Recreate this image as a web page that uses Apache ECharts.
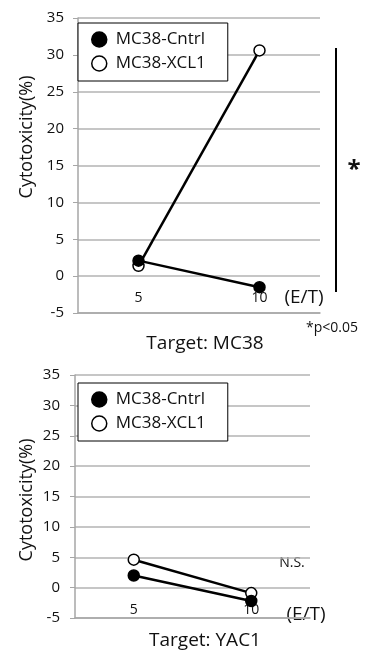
<!DOCTYPE html>
<html><head><meta charset="utf-8">
<script src="https://cdn.jsdelivr.net/npm/echarts@6/dist/echarts.min.js"></script>
<style>html,body{margin:0;padding:0;background:#fff}#c{width:366px;height:651px}</style>
</head><body><div id="c"></div>
<script>
const categories = ['5', '10'];
const seriesNames = ['MC38-Cntrl', 'MC38-XCL1'];
const mc38Cntrl = [2.1, -1.5];
const mc38Xcl1 = [1.4, 30.6];
const yac1Cntrl = [2.0, -2.2];
const yac1Xcl1 = [4.6, -0.9];
const yMin = -5, yMax = 35, yStep = 5;
const panelTitles = ['Target: MC38', 'Target: YAC1'];
const yTitle = 'Cytotoxicity(%)';
const xUnit = '(E/T)';
const sigMark = '*';
const pNote = '*p<0.05';
const nsNote = 'N.S.';

const FONT = '"Open Sans", sans-serif';
const GRAY = '#a6a6a6';
const TXT = '#111';

const grids = [
  {left: 78, right: 46, top: 18, height: 295},
  {left: 75, right: 56, top: 375, height: 243}
];

function xAxis(i, margin) {
  return {
    type: 'category', gridIndex: i, data: categories, boundaryGap: true,
    axisLine: {onZero: false, lineStyle: {color: GRAY, width: 1.5}},
    axisTick: {show: false},
    axisLabel: {color: TXT, fontSize: 14, fontFamily: FONT, inside: true, margin: margin},
    splitLine: {show: false}
  };
}
function yAxis(i, margin) {
  return {
    type: 'value', gridIndex: i, min: yMin, max: yMax, interval: yStep,
    axisLine: {show: true, lineStyle: {color: GRAY, width: 1.5}},
    axisTick: {show: true, length: 5, lineStyle: {color: GRAY}},
    axisLabel: {color: TXT, fontSize: 15, fontFamily: FONT, margin: margin},
    splitLine: {show: true, lineStyle: {color: '#b3b3b3', width: 1.5}}
  };
}
function line(name, data, i, filled) {
  return {
    type: 'line', name: name, xAxisIndex: i, yAxisIndex: i, data: data,
    symbol: 'circle', symbolSize: 11, showSymbol: true,
    lineStyle: {color: '#000', width: 2.5},
    itemStyle: {color: filled ? '#000' : '#fff', borderColor: '#000', borderWidth: 1.5},
    z: filled ? 3 : 2, animation: false
  };
}
function legend(top, left) {
  return {
    orient: 'vertical', left: left, top: top,
    data: [
      {name: seriesNames[0], icon: 'circle', itemStyle: {color: '#000', borderColor: '#000', borderWidth: 1.5}},
      {name: seriesNames[1], icon: 'circle', itemStyle: {color: '#fff', borderColor: '#000', borderWidth: 1.5}}
    ],
    itemWidth: 15, itemHeight: 15, itemGap: 7,
    padding: [8, 22, 9, 13],
    borderColor: '#000', borderWidth: 1, backgroundColor: '#fff',
    textStyle: {color: TXT, fontSize: 17, fontFamily: FONT, padding: [0, 0, 0, 4]},
    selectedMode: false
  };
}

const chart = echarts.init(document.getElementById('c'), null, {renderer: 'canvas'});
chart.setOption({
  animation: false,
  backgroundColor: '#fff',
  grid: grids,
  xAxis: [xAxis(0, 8), xAxis(1, 1)],
  yAxis: [yAxis(0, 14), yAxis(1, 15)],
  legend: [legend(23, 78), legend(383, 78)],
  series: [
    line(seriesNames[1], mc38Xcl1, 0, false),
    line(seriesNames[0], mc38Cntrl, 0, true),
    line(seriesNames[1], yac1Xcl1, 1, false),
    line(seriesNames[0], yac1Cntrl, 1, true)
  ],
  graphic: [
    {type: 'text', x: 27, y: 137, rotation: Math.PI / 2,
     style: {text: yTitle, font: '18px ' + FONT, fill: TXT, align: 'center', verticalAlign: 'middle'}},
    {type: 'text', x: 27, y: 500, rotation: Math.PI / 2,
     style: {text: yTitle, font: '18px ' + FONT, fill: TXT, align: 'center', verticalAlign: 'middle'}},
    {type: 'text', x: 205, y: 344,
     style: {text: panelTitles[0], font: '19px ' + FONT, fill: TXT, align: 'center', verticalAlign: 'middle'}},
    {type: 'text', x: 205, y: 641,
     style: {text: panelTitles[1], font: '19px ' + FONT, fill: TXT, align: 'center', verticalAlign: 'middle'}},
    {type: 'text', x: 304, y: 298,
     style: {text: xUnit, font: '19px ' + FONT, fill: TXT, align: 'center', verticalAlign: 'middle'}},
    {type: 'text', x: 306, y: 615,
     style: {text: xUnit, font: '19px ' + FONT, fill: TXT, align: 'center', verticalAlign: 'middle'}},
    {type: 'line', shape: {x1: 336, y1: 48, x2: 336, y2: 292}, style: {stroke: '#000', lineWidth: 2}},
    {type: 'text', x: 354, y: 170,
     style: {text: sigMark, font: 'bold 24px ' + FONT, fill: TXT, align: 'center', verticalAlign: 'middle'}},
    {type: 'text', x: 332, y: 328,
     style: {text: pNote, font: '14px ' + FONT, fill: TXT, align: 'center', verticalAlign: 'middle'}},
    {type: 'text', x: 292, y: 563,
     style: {text: nsNote, font: '14px ' + FONT, fill: TXT, align: 'center', verticalAlign: 'middle'}}
  ]
});
</script>
</body></html>
